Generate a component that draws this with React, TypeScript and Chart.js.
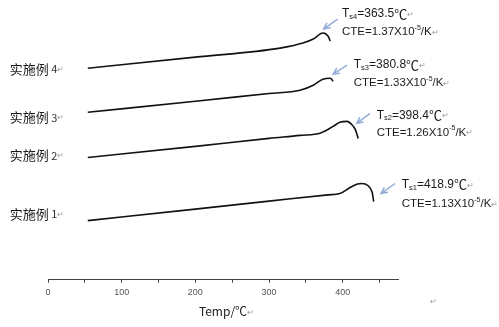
import React, { useEffect, useRef } from "react";
import { Chart, registerables } from "chart.js";

Chart.register(...registerables);

// Series: 实施例 1..4 (temperature °C, arbitrary offset displacement)
const seriesNames = ["实施例 1", "实施例 2", "实施例 3", "实施例 4"];
const temps1 = [54, 200, 300, 380, 396, 410, 420, 426, 434, 440, 442];
const vals1 = [59, 70.5, 78.4, 84.7, 86, 92, 95.5, 96, 94, 87, 78];
const temps2 = [54, 200, 300, 342, 370, 387, 396, 406, 412, 417, 421];
const vals2 = [122, 133, 141, 144, 146.4, 153, 157, 158, 155, 150, 141];
const temps3 = [54, 200, 300, 342, 360, 373, 383, 387];
const vals3 = [167, 178, 185.8, 189, 194, 200, 201, 198];
const temps4 = [54, 200, 315, 346, 360, 373, 380, 383];
const vals4 = [211, 222, 231, 236, 240, 246, 243, 238];

// Series label anchors (temp, value)
const nameAnchorT = [-52, -52, -52, -52];
const nameAnchorV = [66, 124, 162, 210];

// Annotations
const tsSubs = ["s1", "s2", "s3", "s4"];
const tsValues = ["418.9", "398.4", "380.8", "363.5"];
const cteValues = ["1.13", "1.26", "1.33", "1.37"];
const annotT = [480, 446, 415, 399];
const annotTsV = [95, 164, 214, 265];
const annotCteV = [76, 147, 196, 247];
const arrowTailT = [471, 437, 406, 393];
const arrowTailV = [96, 166, 214, 260];
const arrowHeadT = [452, 419, 387, 374];
const arrowHeadV = [86, 156, 205, 250];

const xTickLabels = [0, 100, 200, 300, 400];
const xTitle = "Temp/℃";

const LATIN = "'Liberation Sans', Arial, sans-serif";
const CJK = "'Noto Sans CJK SC', sans-serif";
const MARK = "↵";

type Run = { t: string; size: number; font: string; dy?: number; color?: string };

function drawRuns(ctx: CanvasRenderingContext2D, x: number, y: number, runs: Run[]) {
  let cx = x;
  for (const r of runs) {
    ctx.font = `${r.size}px ${r.font}`;
    ctx.fillStyle = r.color || "#1a1a1a";
    ctx.fillText(r.t, cx, y + (r.dy || 0));
    cx += ctx.measureText(r.t).width;
  }
}

const annotPlugin = {
  id: "annot",
  afterDraw(chart: any) {
    const ctx: CanvasRenderingContext2D = chart.ctx;
    const xs = chart.scales.x;
    const ys = chart.scales.y;
    ctx.save();
    ctx.textBaseline = "middle";
    ctx.textAlign = "left";
    // series names
    seriesNames.forEach((n, i) => {
      const [cn, num] = n.split(" ");
      drawRuns(ctx, xs.getPixelForValue(nameAnchorT[i]), ys.getPixelForValue(nameAnchorV[i]), [
        { t: cn, size: 13, font: CJK },
        { t: " " + num, size: 11, font: CJK, color: "#333" },
        { t: MARK, size: 8, font: CJK, color: "#999" },
      ]);
    });
    // annotations
    for (let i = 0; i < 4; i++) {
      const ax = xs.getPixelForValue(annotT[i]);
      drawRuns(ctx, ax, ys.getPixelForValue(annotTsV[i]), [
        { t: "T", size: 12, font: LATIN },
        { t: tsSubs[i], size: 7.5, font: LATIN, dy: 3 },
        { t: "=" + tsValues[i], size: 12, font: LATIN },
        { t: "℃", size: 13, font: CJK },
        { t: MARK, size: 8, font: CJK, color: "#999" },
      ]);
      drawRuns(ctx, ax, ys.getPixelForValue(annotCteV[i]), [
        { t: "CTE=" + cteValues[i] + "X10", size: 11.5, font: LATIN },
        { t: "-5", size: 7, font: LATIN, dy: -4 },
        { t: "/K", size: 11.5, font: LATIN },
        { t: MARK, size: 8, font: CJK, color: "#999" },
      ]);
      // arrow
      const tx = xs.getPixelForValue(arrowTailT[i]);
      const ty = ys.getPixelForValue(arrowTailV[i]);
      const hx = xs.getPixelForValue(arrowHeadT[i]);
      const hy = ys.getPixelForValue(arrowHeadV[i]);
      ctx.strokeStyle = "#95acd6";
      ctx.lineWidth = 1.5;
      ctx.beginPath();
      ctx.moveTo(tx, ty);
      ctx.lineTo(hx, hy);
      const ang = Math.atan2(hy - ty, hx - tx);
      const L = 7;
      ctx.moveTo(hx + L * Math.cos(ang + Math.PI - 0.45), hy + L * Math.sin(ang + Math.PI - 0.45));
      ctx.lineTo(hx, hy);
      ctx.lineTo(hx + L * Math.cos(ang + Math.PI + 0.45), hy + L * Math.sin(ang + Math.PI + 0.45));
      ctx.stroke();
    }
    // paragraph marks near axis title and lone one
    ctx.font = `12px ${CJK}`;
    const tw = ctx.measureText(xTitle).width;
    const tcx = (xs.left + xs.right) / 2;
    ctx.font = `8px ${CJK}`;
    ctx.fillStyle = "#999";
    ctx.fillText(MARK, tcx + tw / 2, xs.bottom - 4 - 7);
    ctx.fillText(MARK, xs.getPixelForValue(518), xs.top + 21);
    ctx.restore();
  },
};

export default function App() {
  const ref = useRef<HTMLCanvasElement>(null);
  useEffect(() => {
    const mk = (t: number[], v: number[]) => t.map((x, i) => ({ x, y: v[i] }));
    const datasets = [
      [temps1, vals1],
      [temps2, vals2],
      [temps3, vals3],
      [temps4, vals4],
    ].map(([t, v], i) => ({
      label: seriesNames[i],
      data: mk(t, v),
      borderColor: "#111",
      borderWidth: 1.6,
      pointRadius: 0,
      cubicInterpolationMode: "monotone" as const,
      fill: false,
    }));
    const chart = new Chart(ref.current!, {
      type: "line",
      data: { datasets },
      options: {
        animation: false,
        responsive: true,
        maintainAspectRatio: false,
        layout: { padding: { left: 48, right: 101, top: 10, bottom: 4 } },
        plugins: { legend: { display: false }, tooltip: { enabled: false } },
        scales: {
          x: {
            type: "linear",
            min: 0,
            max: 475,
            border: { display: true, color: "#444", width: 1 },
            grid: { display: true, drawOnChartArea: false, drawTicks: true, tickLength: 3, color: "#444" },
            ticks: {
              stepSize: 50,
              includeBounds: false,
              maxRotation: 0,
              autoSkip: false,
              padding: 4,
              color: "#555",
              font: { size: 9, family: LATIN },
              callback: (v: any) => (xTickLabels.includes(Number(v)) ? String(v) : ""),
            },
            title: {
              display: true,
              text: xTitle,
              color: "#222",
              font: { size: 12, family: CJK },
              padding: { top: 3, bottom: 4 },
            },
          },
          y: { type: "linear", display: false, min: 0, max: 269 },
        },
      },
      plugins: [annotPlugin],
    });
    return () => chart.destroy();
  }, []);
  return (
    <div style={{ position: "absolute", left: 0, top: 0, width: 499, height: 327, background: "#fff" }}>
      <canvas ref={ref} />
    </div>
  );
}
